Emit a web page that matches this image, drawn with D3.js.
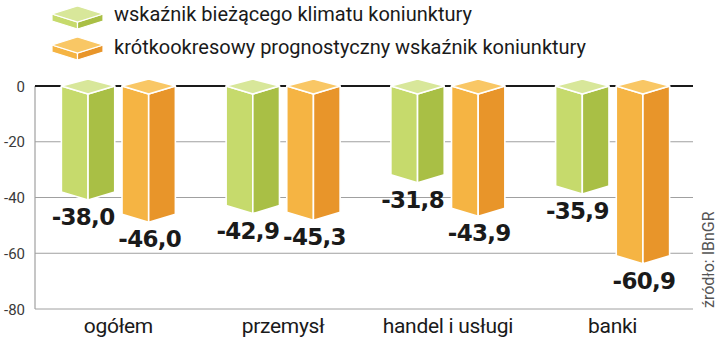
<!DOCTYPE html>
<html><head><meta charset="utf-8">
<script src="https://cdn.jsdelivr.net/npm/d3@7"></script>
<style>
html,body{margin:0;padding:0;background:#fff;}
svg{display:block;}
</style></head>
<body>
<svg id="c" width="720" height="364"></svg>
<script>
const categories = ["ogółem", "przemysł", "handel i usługi", "banki"];
const seriesNames = ["wskaźnik bieżącego klimatu koniunktury", "krótkookresowy prognostyczny wskaźnik koniunktury"];
const currentValues = [-38.0, -42.9, -31.8, -35.9];
const forecastValues = [-46.0, -45.3, -43.9, -60.9];
const yTicks = [0, -20, -40, -60, -80];
const sourceText = "źródło: IBnGR";

const palettes = [
  {left: "#c6da6c", right: "#a9bf45", top: "#d8e79a"},
  {left: "#f5b443", right: "#e8952a", top: "#f9c765"}
];
const allSeries = [currentValues, forecastValues];

const svg = d3.select("#c");
const fontMain = "Roboto, 'DejaVu Sans', sans-serif";

const y = d3.scaleLinear().domain([-80, 0]).range([309, 86]);
const x = d3.scaleBand().domain(categories).range([36, 695]).padding(0);
const xSub = d3.scaleBand().domain([0, 1]).range([-57, 57]).paddingInner(0.12);

const gridX0 = 35, gridX1 = 693;

// gridlines
svg.append("g").selectAll("line").data(yTicks.filter(t => t !== 0)).join("line")
  .attr("x1", gridX0).attr("x2", gridX1)
  .attr("y1", d => y(d)).attr("y2", d => y(d))
  .attr("stroke", "#a0a0a0").attr("stroke-width", 1);
// vertical axis line
svg.append("line").attr("x1", gridX0).attr("x2", gridX0)
  .attr("y1", y(0)).attr("y2", y(-80))
  .attr("stroke", "#a0a0a0").attr("stroke-width", 1.2);
// zero line
svg.append("line").attr("x1", gridX0).attr("x2", gridX1)
  .attr("y1", y(0)).attr("y2", y(0))
  .attr("stroke", "#1a1a1a").attr("stroke-width", 2);

// tick labels
svg.append("g").selectAll("text").data(yTicks).join("text")
  .attr("x", 25).attr("y", d => y(d) + 5.5)
  .attr("text-anchor", "end")
  .attr("font-family", fontMain).attr("font-size", 15)
  .attr("fill", "#3a3a3a")
  .text(d => d === 0 ? "0" : "-" + Math.abs(d));

// bars
const depthBack = 7, depthFront = 8;
function barFaces(x0, x1, yTop, yBot) {
  const xm = (x0 + x1) / 2;
  return {
    top: [[x0, yTop], [xm, yTop - depthBack], [x1, yTop], [xm, yTop + depthFront]],
    left: [[x0, yTop], [xm, yTop + depthFront], [xm, yBot + depthFront], [x0, yBot]],
    right: [[xm, yTop + depthFront], [x1, yTop], [x1, yBot], [xm, yBot + depthFront]]
  };
}
const line = d3.line().curve(d3.curveLinearClosed);

const barsG = svg.append("g");
allSeries.forEach((vals, si) => {
  vals.forEach((v, ci) => {
    const cx = x(categories[ci]) + x.bandwidth() / 2;
    const x0 = cx + xSub(si), x1 = x0 + xSub.bandwidth();
    const f = barFaces(x0, x1, y(0), y(v));
    const g = barsG.append("g");
    g.append("path").attr("d", line(f.left)).attr("fill", palettes[si].left)
      .attr("stroke", "#fff").attr("stroke-width", 1.6).attr("stroke-linejoin", "round");
    g.append("path").attr("d", line(f.right)).attr("fill", palettes[si].right)
      .attr("stroke", "#fff").attr("stroke-width", 1.6).attr("stroke-linejoin", "round");
    g.append("path").attr("d", line(f.top)).attr("fill", palettes[si].top)
      .attr("stroke", "#fff").attr("stroke-width", 1.6).attr("stroke-linejoin", "round");
  });
});

// value labels
const labelShift = [-5, 1];
allSeries.forEach((vals, si) => {
  svg.append("g").selectAll("text").data(vals).join("text")
    .attr("x", (v, ci) => x(categories[ci]) + x.bandwidth() / 2 + xSub(si) + xSub.bandwidth() / 2 + labelShift[si])
    .attr("y", v => y(v) + 33)
    .attr("text-anchor", "middle")
    .attr("font-family", "'DejaVu Sans', sans-serif").attr("font-weight", "bold")
    .attr("font-size", 23).attr("letter-spacing", -0.7).attr("fill", "#1a1a1a")
    .text(v => v.toFixed(1).replace(".", ","));
});

// category labels
svg.append("g").selectAll("text").data(categories).join("text")
  .attr("x", d => x(d) + x.bandwidth() / 2)
  .attr("y", 333)
  .attr("text-anchor", "middle")
  .attr("font-family", fontMain).attr("font-size", 21)
  .attr("fill", "#1a1a1a").attr("letter-spacing", -0.3)
  .text(d => d);

// legend
const legY = [17, 48];
seriesNames.forEach((name, si) => {
  const cy = legY[si];
  const lx0 = 52, lx1 = 103, lxm = (lx0 + lx1) / 2, th = 7;
  const top = [[lx0, cy - 3], [lxm, cy - 11], [lx1, cy - 3], [lxm, cy + 5]];
  const left = [[lx0, cy - 3], [lxm, cy + 5], [lxm, cy + 5 + th], [lx0, cy - 3 + th]];
  const right = [[lxm, cy + 5], [lx1, cy - 3], [lx1, cy - 3 + th], [lxm, cy + 5 + th]];
  const g = svg.append("g");
  g.append("path").attr("d", line(left)).attr("fill", palettes[si].left).attr("stroke", "#fff").attr("stroke-width", 1.2);
  g.append("path").attr("d", line(right)).attr("fill", palettes[si].right).attr("stroke", "#fff").attr("stroke-width", 1.2);
  g.append("path").attr("d", line(top)).attr("fill", palettes[si].top).attr("stroke", "#fff").attr("stroke-width", 1.2);
  svg.append("text").attr("x", 114).attr("y", cy + 4 + (si === 0 ? 0 : 2))
    .attr("font-family", fontMain).attr("font-size", 20)
    .attr("fill", "#1a1a1a")
    .text(name);
});

// source
svg.append("text")
  .attr("transform", "translate(714,308) rotate(-90)")
  .attr("font-family", fontMain).attr("font-size", 16)
  .attr("fill", "#555")
  .text(sourceText);
</script>
</body></html>
